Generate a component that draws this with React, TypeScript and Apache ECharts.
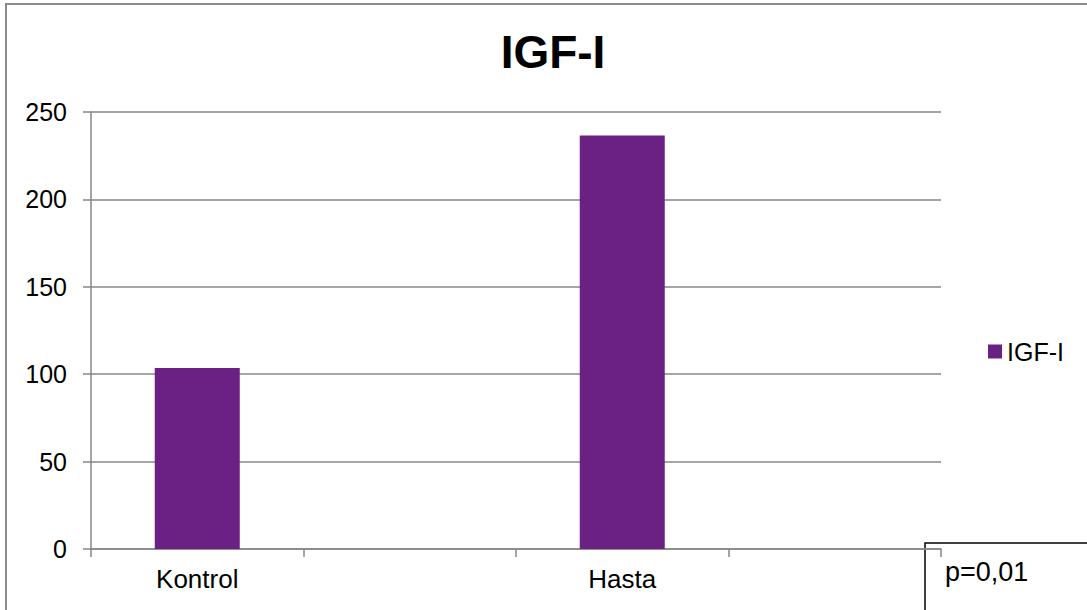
import React, { useEffect, useRef } from "react";
import * as echarts from "echarts";

// Chart content
const chartTitle = "IGF-I";
const seriesName = "IGF-I";
const categories = ["Kontrol", "", "Hasta", ""];
const igfValues: (number | null)[] = [103.5, null, 236.5, null];
const yTicks = { min: 0, max: 250, interval: 50 };
const pValueText = "p=0,01";

const FONT = "'Liberation Sans', Arial, sans-serif";
const BAR_COLOR = "#6B2183";
const AXIS_GRAY = "#878787";

export default function App() {
  const ref = useRef<HTMLDivElement>(null);

  useEffect(() => {
    if (!ref.current) return;
    const chart = echarts.init(ref.current, undefined, { renderer: "svg" });
    chart.setOption({
      animation: false,
      backgroundColor: "#ffffff",
      textStyle: { fontFamily: FONT },
      title: {
        text: chartTitle,
        left: 548,
        top: 24,
        textAlign: "center",
        textStyle: { fontFamily: FONT, fontSize: 46, fontWeight: "bold", color: "#000" },
      },
      legend: {
        data: [seriesName],
        left: 983,
        top: 334,
        icon: "rect",
        itemWidth: 14,
        itemHeight: 14,
        textStyle: { fontFamily: FONT, fontSize: 25, color: "#000", padding: [0, 0, 0, 0] },
      },
      grid: { left: 91, right: 146, top: 112, bottom: 61 },
      xAxis: {
        type: "category",
        data: categories,
        axisLine: { show: true, lineStyle: { color: AXIS_GRAY, width: 1.5 } },
        axisTick: { show: true, length: 8, alignWithLabel: false, lineStyle: { color: AXIS_GRAY, width: 1.5 } },
        axisLabel: { fontFamily: FONT, fontSize: 26, color: "#000", margin: 17, interval: 0 },
        splitLine: { show: false },
      },
      yAxis: {
        type: "value",
        min: yTicks.min,
        max: yTicks.max,
        interval: yTicks.interval,
        axisLine: { show: true, lineStyle: { color: AXIS_GRAY, width: 1.5 } },
        axisTick: { show: true, length: 8, lineStyle: { color: AXIS_GRAY, width: 1.5 } },
        axisLabel: { fontFamily: FONT, fontSize: 25, color: "#000", margin: 24 },
        splitLine: { show: true, lineStyle: { color: AXIS_GRAY, width: 1.5 } },
      },
      series: [
        {
          name: seriesName,
          type: "bar",
          data: igfValues.map((v) => (v === null ? "-" : v)),
          barWidth: "40%",
          itemStyle: { color: BAR_COLOR },
        },
      ],
      graphic: [
        // chart frame: only its top and left edges fall inside the view
        {
          type: "polyline",
          silent: true,
          shape: { points: [[6, 610], [6, 4], [1087, 4]] },
          style: { fill: "none", stroke: "#8c8c8c", lineWidth: 2 },
        },
        // p-value text box, open to the right and bottom
        {
          type: "polyline",
          silent: true,
          shape: { points: [[925, 610], [925, 543], [1087, 543]] },
          style: { fill: "none", stroke: "#000", lineWidth: 1.5 },
        },
        {
          type: "text",
          silent: true,
          x: 945,
          y: 572,
          style: {
            text: pValueText,
            fontFamily: FONT,
            fontSize: 27,
            fill: "#000",
            verticalAlign: "middle",
            align: "left",
          },
        },
      ],
    });
    return () => chart.dispose();
  }, []);

  return (
    <div
      ref={ref}
      style={{ position: "fixed", left: 0, top: 0, width: 1087, height: 610, background: "#fff" }}
    />
  );
}
